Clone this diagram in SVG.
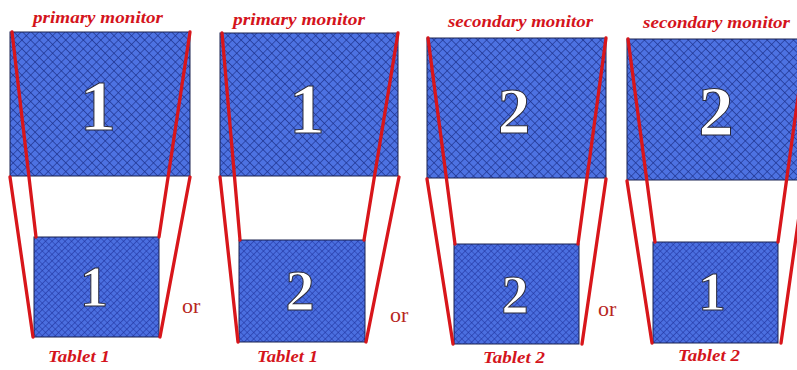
<svg xmlns="http://www.w3.org/2000/svg" width="797" height="370" viewBox="0 0 797 370">
<defs>
<pattern id="hatchM" width="6.2" height="6.2" patternUnits="userSpaceOnUse" patternTransform="rotate(45)">
<rect width="6.2" height="6.2" fill="#4d72e2"/>
<path d="M0 0H6.2M0 0V6.2" stroke="#1c2f88" stroke-width="1.2"/>
</pattern>
<pattern id="hatchT" width="4.6" height="4.6" patternUnits="userSpaceOnUse" patternTransform="rotate(45)">
<rect width="4.6" height="4.6" fill="#4b6fe0"/>
<path d="M0 0H4.6M0 0V4.6" stroke="#1d309a" stroke-width="1.1"/>
</pattern>
</defs>
<style>
.mon{fill:url(#hatchM);stroke:#1a2250;stroke-width:1}
.tab{fill:url(#hatchT);stroke:#1a2250;stroke-width:1}
.red{stroke:#d8161b;stroke-width:3.3;fill:none;stroke-linecap:round}
.lbl{font-family:"Liberation Serif",serif;font-style:italic;font-weight:bold;fill:#d4141c}
.num{font-family:"Liberation Serif",serif;font-weight:bold;fill:#ffffff;stroke:#2a2a3a;stroke-width:1;text-anchor:middle}
.or{font-family:"Liberation Serif",serif;font-size:22px;fill:#b8281e}
</style>
<rect width="797" height="370" fill="#ffffff"/>

<g id="panel1">
<rect class="mon" x="10" y="32" width="180" height="144"/>
<rect class="tab" x="34" y="237" width="125" height="100"/>
<text class="num" x="98" y="130" font-size="72">1</text>
<text class="num" x="94" y="306" font-size="56">1</text>
<text class="lbl" x="33" y="23" font-size="17" textLength="130" lengthAdjust="spacingAndGlyphs">primary monitor</text>
<text class="lbl" x="48" y="362" font-size="17" textLength="62" lengthAdjust="spacingAndGlyphs">Tablet 1</text>
<text class="or" x="182" y="313">or</text>
</g>

<g id="panel2">
<rect class="mon" x="220" y="33" width="178" height="143"/>
<rect class="tab" x="239" y="240" width="126" height="102"/>
<text class="num" x="307" y="133" font-size="71">1</text>
<text class="num" x="300" y="310" font-size="58">2</text>
<text class="lbl" x="233" y="25" font-size="17" textLength="132" lengthAdjust="spacingAndGlyphs">primary monitor</text>
<text class="lbl" x="257" y="362" font-size="17" textLength="61" lengthAdjust="spacingAndGlyphs">Tablet 1</text>
<text class="or" x="390" y="322">or</text>
</g>

<g id="panel3">
<rect class="mon" x="427" y="38" width="179" height="140"/>
<rect class="tab" x="454" y="244" width="125" height="100"/>
<text class="num" x="514" y="133" font-size="65">2</text>
<text class="num" x="515" y="313" font-size="54">2</text>
<text class="lbl" x="448" y="27" font-size="17" textLength="145" lengthAdjust="spacingAndGlyphs">secondary monitor</text>
<text class="lbl" x="483" y="363" font-size="17" textLength="62" lengthAdjust="spacingAndGlyphs">Tablet 2</text>
<text class="or" x="598" y="316">or</text>
</g>

<g id="panel4">
<rect class="mon" x="627" y="39" width="180" height="141"/>
<rect class="tab" x="653" y="242" width="125" height="101"/>
<text class="num" x="716" y="135" font-size="70">2</text>
<text class="num" x="712" y="310" font-size="55">1</text>
<text class="lbl" x="643" y="28" font-size="17" textLength="147" lengthAdjust="spacingAndGlyphs">secondary monitor</text>
<text class="lbl" x="678" y="361" font-size="17" textLength="62" lengthAdjust="spacingAndGlyphs">Tablet 2</text>
</g>

<g id="connectors">
<line class="red" x1="12" y1="32" x2="36" y2="237"/>
<line class="red" x1="10" y1="177" x2="33" y2="337"/>
<line class="red" x1="190" y1="32" x2="159" y2="237"/>
<line class="red" x1="190" y1="177" x2="160" y2="337"/>

<line class="red" x1="222" y1="33" x2="240" y2="240"/>
<line class="red" x1="220" y1="177" x2="238" y2="342"/>
<line class="red" x1="398" y1="33" x2="364" y2="240"/>
<line class="red" x1="399" y1="177" x2="366" y2="342"/>

<line class="red" x1="428" y1="38" x2="455" y2="244"/>
<line class="red" x1="427" y1="179" x2="453" y2="344"/>
<line class="red" x1="606" y1="38" x2="578" y2="244"/>
<line class="red" x1="606" y1="179" x2="582" y2="344"/>

<line class="red" x1="628" y1="39" x2="655" y2="242"/>
<line class="red" x1="627" y1="181" x2="652" y2="343"/>
<line class="red" x1="806" y1="39" x2="778" y2="242"/>
<line class="red" x1="804" y1="181" x2="781" y2="343"/>
</g>
</svg>
